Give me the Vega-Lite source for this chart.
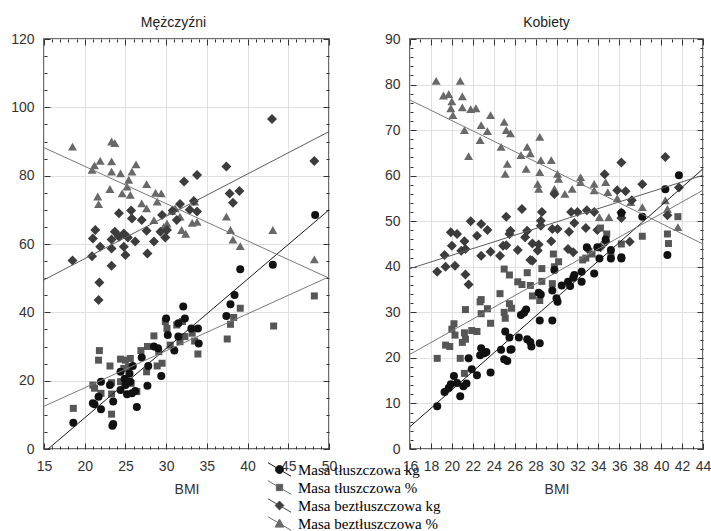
{
  "$schema": "https://vega.github.io/schema/vega-lite/v6.json",
  "background": "white",
  "padding": {"left": 9, "top": 15, "right": 5, "bottom": 5},
  "bounds": "flush",
  "spacing": 81,
  "config": {
    "view": {"stroke": "#3c3c3c", "strokeWidth": 1.5},
    "axis": {
      "labelFont": "Liberation Sans", "labelFontSize": 14, "labelColor": "#333",
      "titleFont": "Liberation Sans", "titleFontSize": 14, "titleFontWeight": "normal", "titleColor": "#333",
      "domain": false, "tickColor": "#333", "tickWidth": 1, "gridColor": "#e0e0e0",
      "labelOverlap": false, "labelFlush": false
    },
    "title": {"font": "Liberation Sans", "fontSize": 14, "fontWeight": "normal", "color": "#222", "frame": "group", "anchor": "middle", "offset": 2}
  },
  "resolve": {"scale": {"x": "independent", "y": "independent", "color": "independent", "shape": "independent", "fill": "independent", "stroke": "independent"}},
  "datasets": {
    "punkty": [
      {"p":"M","s":"bp","x":18.5,"y":88.5},{"p":"M","s":"bp","x":23.3,"y":90.0},{"p":"M","s":"bp","x":23.7,"y":89.5},{"p":"M","s":"bp","x":20.9,"y":81.7},{"p":"M","s":"bp","x":21.2,"y":83.0},{"p":"M","s":"bp","x":21.9,"y":84.3},{"p":"M","s":"bp","x":23.3,"y":84.2},{"p":"M","s":"bp","x":23.3,"y":81.2},{"p":"M","s":"bp","x":24.4,"y":80.7},{"p":"M","s":"bp","x":26.3,"y":83.3},{"p":"M","s":"bp","x":25.8,"y":81.2},{"p":"M","s":"bp","x":25.4,"y":78.8},{"p":"M","s":"bp","x":25.2,"y":76.8},{"p":"M","s":"bp","x":24.6,"y":74.8},{"p":"M","s":"bp","x":25.6,"y":74.4},{"p":"M","s":"bp","x":23.1,"y":76.1},{"p":"M","s":"bp","x":21.6,"y":73.9},{"p":"M","s":"bp","x":21.7,"y":71.7},{"p":"M","s":"bp","x":27.6,"y":77.5},{"p":"M","s":"bp","x":28.7,"y":75.0},{"p":"M","s":"bp","x":29.4,"y":74.8},{"p":"M","s":"bp","x":28.9,"y":72.4},{"p":"M","s":"bp","x":27.0,"y":71.9},{"p":"M","s":"bp","x":27.6,"y":70.4},{"p":"M","s":"bp","x":28.5,"y":67.0},{"p":"M","s":"bp","x":29.7,"y":65.0},{"p":"M","s":"bp","x":31.1,"y":70.4},{"p":"M","s":"bp","x":31.7,"y":68.0},{"p":"M","s":"bp","x":31.9,"y":64.1},{"p":"M","s":"bp","x":33.2,"y":66.2},{"p":"M","s":"bp","x":33.8,"y":66.5},{"p":"M","s":"bp","x":33.5,"y":72.4},{"p":"M","s":"bp","x":37.4,"y":68.0},{"p":"M","s":"bp","x":37.9,"y":64.1},{"p":"M","s":"bp","x":38.2,"y":61.3},{"p":"M","s":"bp","x":39.1,"y":59.4},{"p":"M","s":"bp","x":43.1,"y":64.1},{"p":"M","s":"bp","x":48.2,"y":55.5},{"p":"M","s":"bp","x":30.7,"y":69.7},{"p":"M","s":"bp","x":32.4,"y":63.0},{"p":"M","s":"bp","x":30.1,"y":66.0},
      {"p":"M","s":"bkg","x":43.0,"y":96.6},{"p":"M","s":"bkg","x":48.2,"y":84.3},{"p":"M","s":"bkg","x":37.4,"y":82.7},{"p":"M","s":"bkg","x":33.8,"y":80.2},{"p":"M","s":"bkg","x":32.2,"y":78.3},{"p":"M","s":"bkg","x":37.8,"y":74.8},{"p":"M","s":"bkg","x":39.0,"y":75.5},{"p":"M","s":"bkg","x":38.2,"y":72.1},{"p":"M","s":"bkg","x":33.4,"y":72.6},{"p":"M","s":"bkg","x":31.7,"y":71.7},{"p":"M","s":"bkg","x":30.8,"y":69.8},{"p":"M","s":"bkg","x":32.9,"y":70.0},{"p":"M","s":"bkg","x":33.8,"y":69.5},{"p":"M","s":"bkg","x":29.5,"y":68.5},{"p":"M","s":"bkg","x":31.3,"y":67.0},{"p":"M","s":"bkg","x":30.1,"y":64.1},{"p":"M","s":"bkg","x":29.3,"y":63.6},{"p":"M","s":"bkg","x":29.9,"y":61.9},{"p":"M","s":"bkg","x":27.6,"y":63.9},{"p":"M","s":"bkg","x":28.5,"y":60.7},{"p":"M","s":"bkg","x":27.0,"y":67.0},{"p":"M","s":"bkg","x":25.7,"y":69.8},{"p":"M","s":"bkg","x":25.8,"y":67.5},{"p":"M","s":"bkg","x":24.2,"y":69.0},{"p":"M","s":"bkg","x":23.7,"y":63.6},{"p":"M","s":"bkg","x":24.8,"y":63.1},{"p":"M","s":"bkg","x":24.2,"y":62.1},{"p":"M","s":"bkg","x":25.3,"y":61.9},{"p":"M","s":"bkg","x":26.2,"y":60.7},{"p":"M","s":"bkg","x":23.3,"y":61.3},{"p":"M","s":"bkg","x":21.3,"y":64.1},{"p":"M","s":"bkg","x":21.0,"y":61.6},{"p":"M","s":"bkg","x":21.9,"y":59.2},{"p":"M","s":"bkg","x":23.3,"y":58.7},{"p":"M","s":"bkg","x":24.8,"y":59.2},{"p":"M","s":"bkg","x":25.0,"y":56.8},{"p":"M","s":"bkg","x":27.7,"y":57.2},{"p":"M","s":"bkg","x":18.5,"y":55.2},{"p":"M","s":"bkg","x":20.9,"y":56.4},{"p":"M","s":"bkg","x":23.3,"y":53.6},{"p":"M","s":"bkg","x":21.8,"y":48.7},{"p":"M","s":"bkg","x":21.7,"y":43.6},
      {"p":"M","s":"tp","x":48.2,"y":44.8},{"p":"M","s":"tp","x":43.2,"y":36.0},{"p":"M","s":"tp","x":39.1,"y":41.2},{"p":"M","s":"tp","x":38.3,"y":38.5},{"p":"M","s":"tp","x":37.9,"y":36.5},{"p":"M","s":"tp","x":37.5,"y":32.2},{"p":"M","s":"tp","x":33.9,"y":27.8},{"p":"M","s":"tp","x":33.5,"y":31.6},{"p":"M","s":"tp","x":33.2,"y":33.9},{"p":"M","s":"tp","x":32.3,"y":32.9},{"p":"M","s":"tp","x":31.7,"y":31.4},{"p":"M","s":"tp","x":32.0,"y":37.3},{"p":"M","s":"tp","x":31.3,"y":36.3},{"p":"M","s":"tp","x":30.5,"y":30.4},{"p":"M","s":"tp","x":29.9,"y":37.3},{"p":"M","s":"tp","x":30.1,"y":35.3},{"p":"M","s":"tp","x":28.5,"y":33.1},{"p":"M","s":"tp","x":29.1,"y":28.5},{"p":"M","s":"tp","x":28.9,"y":24.3},{"p":"M","s":"tp","x":29.5,"y":25.1},{"p":"M","s":"tp","x":27.7,"y":30.0},{"p":"M","s":"tp","x":27.6,"y":22.6},{"p":"M","s":"tp","x":26.9,"y":28.8},{"p":"M","s":"tp","x":26.4,"y":16.8},{"p":"M","s":"tp","x":25.6,"y":26.5},{"p":"M","s":"tp","x":25.4,"y":24.1},{"p":"M","s":"tp","x":25.0,"y":26.0},{"p":"M","s":"tp","x":24.4,"y":26.3},{"p":"M","s":"tp","x":24.8,"y":23.6},{"p":"M","s":"tp","x":25.1,"y":20.7},{"p":"M","s":"tp","x":24.4,"y":19.7},{"p":"M","s":"tp","x":23.3,"y":19.4},{"p":"M","s":"tp","x":23.3,"y":16.1},{"p":"M","s":"tp","x":23.3,"y":10.2},{"p":"M","s":"tp","x":23.1,"y":24.3},{"p":"M","s":"tp","x":21.8,"y":28.8},{"p":"M","s":"tp","x":21.7,"y":26.0},{"p":"M","s":"tp","x":21.0,"y":18.7},{"p":"M","s":"tp","x":21.2,"y":17.8},{"p":"M","s":"tp","x":22.0,"y":16.3},{"p":"M","s":"tp","x":18.6,"y":11.9},{"p":"M","s":"tp","x":25.7,"y":19.2},
      {"p":"M","s":"tkg","x":48.3,"y":68.5},{"p":"M","s":"tkg","x":43.1,"y":53.9},{"p":"M","s":"tkg","x":39.1,"y":52.6},{"p":"M","s":"tkg","x":38.4,"y":45.1},{"p":"M","s":"tkg","x":37.9,"y":42.4},{"p":"M","s":"tkg","x":37.4,"y":38.9},{"p":"M","s":"tkg","x":33.9,"y":35.3},{"p":"M","s":"tkg","x":33.1,"y":35.3},{"p":"M","s":"tkg","x":34.0,"y":30.9},{"p":"M","s":"tkg","x":32.1,"y":41.7},{"p":"M","s":"tkg","x":32.3,"y":38.2},{"p":"M","s":"tkg","x":31.5,"y":36.8},{"p":"M","s":"tkg","x":31.5,"y":32.9},{"p":"M","s":"tkg","x":31.0,"y":28.8},{"p":"M","s":"tkg","x":30.0,"y":38.2},{"p":"M","s":"tkg","x":30.2,"y":33.4},{"p":"M","s":"tkg","x":29.0,"y":29.5},{"p":"M","s":"tkg","x":28.5,"y":30.0},{"p":"M","s":"tkg","x":27.0,"y":26.8},{"p":"M","s":"tkg","x":27.8,"y":24.3},{"p":"M","s":"tkg","x":27.7,"y":18.5},{"p":"M","s":"tkg","x":29.4,"y":21.4},{"p":"M","s":"tkg","x":25.9,"y":24.3},{"p":"M","s":"tkg","x":25.5,"y":22.1},{"p":"M","s":"tkg","x":25.6,"y":19.7},{"p":"M","s":"tkg","x":25.0,"y":18.7},{"p":"M","s":"tkg","x":25.2,"y":16.0},{"p":"M","s":"tkg","x":25.8,"y":16.3},{"p":"M","s":"tkg","x":24.4,"y":22.6},{"p":"M","s":"tkg","x":24.4,"y":17.3},{"p":"M","s":"tkg","x":23.5,"y":13.9},{"p":"M","s":"tkg","x":23.5,"y":7.3},{"p":"M","s":"tkg","x":23.4,"y":6.8},{"p":"M","s":"tkg","x":22.0,"y":19.7},{"p":"M","s":"tkg","x":21.7,"y":15.3},{"p":"M","s":"tkg","x":22.0,"y":11.6},{"p":"M","s":"tkg","x":21.0,"y":13.4},{"p":"M","s":"tkg","x":21.2,"y":13.1},{"p":"M","s":"tkg","x":26.4,"y":12.3},{"p":"M","s":"tkg","x":18.6,"y":7.7},{"p":"M","s":"tkg","x":23.1,"y":18.7},{"p":"M","s":"tkg","x":24.9,"y":20.5},{"p":"M","s":"tkg","x":26.2,"y":17.0},
      {"p":"K","s":"bp","x":18.5,"y":80.8},{"p":"K","s":"bp","x":20.8,"y":80.8},{"p":"K","s":"bp","x":19.2,"y":77.6},{"p":"K","s":"bp","x":19.7,"y":77.9},{"p":"K","s":"bp","x":21.0,"y":77.4},{"p":"K","s":"bp","x":20.0,"y":76.3},{"p":"K","s":"bp","x":19.9,"y":74.8},{"p":"K","s":"bp","x":20.1,"y":73.3},{"p":"K","s":"bp","x":21.0,"y":75.0},{"p":"K","s":"bp","x":21.8,"y":74.6},{"p":"K","s":"bp","x":22.3,"y":74.8},{"p":"K","s":"bp","x":21.2,"y":70.0},{"p":"K","s":"bp","x":21.6,"y":64.3},{"p":"K","s":"bp","x":22.8,"y":71.1},{"p":"K","s":"bp","x":23.4,"y":69.8},{"p":"K","s":"bp","x":23.7,"y":73.3},{"p":"K","s":"bp","x":22.7,"y":67.8},{"p":"K","s":"bp","x":24.7,"y":66.3},{"p":"K","s":"bp","x":25.0,"y":71.8},{"p":"K","s":"bp","x":25.2,"y":70.0},{"p":"K","s":"bp","x":25.6,"y":69.3},{"p":"K","s":"bp","x":25.3,"y":62.6},{"p":"K","s":"bp","x":25.1,"y":60.4},{"p":"K","s":"bp","x":26.6,"y":64.5},{"p":"K","s":"bp","x":27.2,"y":66.3},{"p":"K","s":"bp","x":27.5,"y":64.9},{"p":"K","s":"bp","x":27.1,"y":61.5},{"p":"K","s":"bp","x":28.4,"y":68.5},{"p":"K","s":"bp","x":28.5,"y":63.4},{"p":"K","s":"bp","x":28.4,"y":60.8},{"p":"K","s":"bp","x":28.2,"y":58.2},{"p":"K","s":"bp","x":28.3,"y":57.1},{"p":"K","s":"bp","x":29.5,"y":63.4},{"p":"K","s":"bp","x":30.1,"y":60.4},{"p":"K","s":"bp","x":30.2,"y":59.3},{"p":"K","s":"bp","x":29.8,"y":57.1},{"p":"K","s":"bp","x":30.8,"y":56.0},{"p":"K","s":"bp","x":31.5,"y":57.1},{"p":"K","s":"bp","x":32.3,"y":59.7},{"p":"K","s":"bp","x":32.3,"y":58.6},{"p":"K","s":"bp","x":33.6,"y":58.2},{"p":"K","s":"bp","x":33.6,"y":56.8},{"p":"K","s":"bp","x":34.7,"y":58.6},{"p":"K","s":"bp","x":34.9,"y":56.4},{"p":"K","s":"bp","x":35.0,"y":50.9},{"p":"K","s":"bp","x":34.1,"y":50.9},{"p":"K","s":"bp","x":35.8,"y":55.0},{"p":"K","s":"bp","x":37.1,"y":54.2},{"p":"K","s":"bp","x":38.2,"y":53.1},{"p":"K","s":"bp","x":40.4,"y":54.6},{"p":"K","s":"bp","x":40.6,"y":52.7},{"p":"K","s":"bp","x":41.6,"y":48.7},
      {"p":"K","s":"bkg","x":40.4,"y":64.1},{"p":"K","s":"bkg","x":36.2,"y":62.9},{"p":"K","s":"bkg","x":34.6,"y":60.3},{"p":"K","s":"bkg","x":38.2,"y":58.1},{"p":"K","s":"bkg","x":35.8,"y":56.8},{"p":"K","s":"bkg","x":36.6,"y":56.6},{"p":"K","s":"bkg","x":37.2,"y":54.6},{"p":"K","s":"bkg","x":41.7,"y":57.4},{"p":"K","s":"bkg","x":40.6,"y":51.3},{"p":"K","s":"bkg","x":36.2,"y":50.7},{"p":"K","s":"bkg","x":36.2,"y":51.9},{"p":"K","s":"bkg","x":33.6,"y":52.0},{"p":"K","s":"bkg","x":32.9,"y":52.4},{"p":"K","s":"bkg","x":32.0,"y":52.0},{"p":"K","s":"bkg","x":31.7,"y":49.6},{"p":"K","s":"bkg","x":29.8,"y":56.0},{"p":"K","s":"bkg","x":31.4,"y":52.0},{"p":"K","s":"bkg","x":28.6,"y":52.0},{"p":"K","s":"bkg","x":26.7,"y":52.7},{"p":"K","s":"bkg","x":28.5,"y":50.1},{"p":"K","s":"bkg","x":28.5,"y":49.0},{"p":"K","s":"bkg","x":29.6,"y":48.3},{"p":"K","s":"bkg","x":30.1,"y":48.3},{"p":"K","s":"bkg","x":31.2,"y":47.7},{"p":"K","s":"bkg","x":32.8,"y":48.5},{"p":"K","s":"bkg","x":33.9,"y":48.1},{"p":"K","s":"bkg","x":34.7,"y":45.5},{"p":"K","s":"bkg","x":37.0,"y":45.5},{"p":"K","s":"bkg","x":25.2,"y":51.0},{"p":"K","s":"bkg","x":25.6,"y":47.9},{"p":"K","s":"bkg","x":25.5,"y":47.2},{"p":"K","s":"bkg","x":27.2,"y":47.9},{"p":"K","s":"bkg","x":27.0,"y":46.5},{"p":"K","s":"bkg","x":21.8,"y":50.0},{"p":"K","s":"bkg","x":22.8,"y":49.4},{"p":"K","s":"bkg","x":23.4,"y":48.1},{"p":"K","s":"bkg","x":22.4,"y":46.8},{"p":"K","s":"bkg","x":20.5,"y":47.2},{"p":"K","s":"bkg","x":21.2,"y":45.6},{"p":"K","s":"bkg","x":19.9,"y":47.6},{"p":"K","s":"bkg","x":20.0,"y":44.6},{"p":"K","s":"bkg","x":20.9,"y":43.5},{"p":"K","s":"bkg","x":21.3,"y":43.9},{"p":"K","s":"bkg","x":23.7,"y":43.3},{"p":"K","s":"bkg","x":24.9,"y":44.6},{"p":"K","s":"bkg","x":25.2,"y":44.7},{"p":"K","s":"bkg","x":24.6,"y":42.4},{"p":"K","s":"bkg","x":22.8,"y":42.4},{"p":"K","s":"bkg","x":26.3,"y":43.7},{"p":"K","s":"bkg","x":27.7,"y":45.1},{"p":"K","s":"bkg","x":28.3,"y":44.9},{"p":"K","s":"bkg","x":28.2,"y":43.6},{"p":"K","s":"bkg","x":29.5,"y":45.6},{"p":"K","s":"bkg","x":31.1,"y":43.9},{"p":"K","s":"bkg","x":31.6,"y":43.2},{"p":"K","s":"bkg","x":33.0,"y":43.9},{"p":"K","s":"bkg","x":34.2,"y":44.3},{"p":"K","s":"bkg","x":19.3,"y":42.6},{"p":"K","s":"bkg","x":27.7,"y":41.3},{"p":"K","s":"bkg","x":18.6,"y":38.9},{"p":"K","s":"bkg","x":19.4,"y":40.0},{"p":"K","s":"bkg","x":20.3,"y":40.2},{"p":"K","s":"bkg","x":21.3,"y":38.3},{"p":"K","s":"bkg","x":21.6,"y":36.1},{"p":"K","s":"bkg","x":27.5,"y":41.5},
      {"p":"K","s":"tp","x":18.6,"y":19.9},{"p":"K","s":"tp","x":19.4,"y":22.8},{"p":"K","s":"tp","x":19.8,"y":22.5},{"p":"K","s":"tp","x":20.0,"y":26.3},{"p":"K","s":"tp","x":20.2,"y":27.5},{"p":"K","s":"tp","x":20.3,"y":25.0},{"p":"K","s":"tp","x":21.2,"y":25.5},{"p":"K","s":"tp","x":21.0,"y":23.4},{"p":"K","s":"tp","x":21.3,"y":24.1},{"p":"K","s":"tp","x":20.8,"y":19.9},{"p":"K","s":"tp","x":21.3,"y":30.6},{"p":"K","s":"tp","x":21.9,"y":26.0},{"p":"K","s":"tp","x":22.4,"y":25.8},{"p":"K","s":"tp","x":22.8,"y":29.7},{"p":"K","s":"tp","x":22.8,"y":32.8},{"p":"K","s":"tp","x":22.7,"y":32.3},{"p":"K","s":"tp","x":23.4,"y":30.8},{"p":"K","s":"tp","x":23.7,"y":27.6},{"p":"K","s":"tp","x":24.6,"y":34.1},{"p":"K","s":"tp","x":25.0,"y":30.0},{"p":"K","s":"tp","x":25.1,"y":28.7},{"p":"K","s":"tp","x":25.5,"y":31.9},{"p":"K","s":"tp","x":25.7,"y":30.9},{"p":"K","s":"tp","x":25.0,"y":39.5},{"p":"K","s":"tp","x":25.5,"y":38.2},{"p":"K","s":"tp","x":26.3,"y":36.7},{"p":"K","s":"tp","x":26.7,"y":36.1},{"p":"K","s":"tp","x":27.2,"y":38.7},{"p":"K","s":"tp","x":27.5,"y":35.9},{"p":"K","s":"tp","x":27.7,"y":33.6},{"p":"K","s":"tp","x":28.4,"y":32.6},{"p":"K","s":"tp","x":28.6,"y":39.6},{"p":"K","s":"tp","x":28.6,"y":36.8},{"p":"K","s":"tp","x":29.6,"y":36.3},{"p":"K","s":"tp","x":29.8,"y":40.0},{"p":"K","s":"tp","x":30.2,"y":41.1},{"p":"K","s":"tp","x":32.5,"y":41.5},{"p":"K","s":"tp","x":21.2,"y":16.6},{"p":"K","s":"tp","x":41.6,"y":51.0},{"p":"K","s":"tp","x":40.6,"y":47.2},{"p":"K","s":"tp","x":40.7,"y":45.1},{"p":"K","s":"tp","x":38.2,"y":46.7},{"p":"K","s":"tp","x":36.2,"y":45.0},{"p":"K","s":"tp","x":34.2,"y":48.5},{"p":"K","s":"tp","x":34.8,"y":47.2},{"p":"K","s":"tp","x":35.2,"y":42.4},{"p":"K","s":"tp","x":33.4,"y":42.8},{"p":"K","s":"tp","x":32.8,"y":41.9},{"p":"K","s":"tp","x":29.7,"y":42.8},
      {"p":"K","s":"tkg","x":18.6,"y":9.4},{"p":"K","s":"tkg","x":19.3,"y":12.5},{"p":"K","s":"tkg","x":19.7,"y":13.4},{"p":"K","s":"tkg","x":20.2,"y":16.0},{"p":"K","s":"tkg","x":19.9,"y":14.2},{"p":"K","s":"tkg","x":20.5,"y":14.5},{"p":"K","s":"tkg","x":20.8,"y":11.6},{"p":"K","s":"tkg","x":21.1,"y":13.8},{"p":"K","s":"tkg","x":21.4,"y":14.4},{"p":"K","s":"tkg","x":21.6,"y":19.9},{"p":"K","s":"tkg","x":21.9,"y":17.5},{"p":"K","s":"tkg","x":22.4,"y":16.2},{"p":"K","s":"tkg","x":22.8,"y":22.1},{"p":"K","s":"tkg","x":22.7,"y":20.6},{"p":"K","s":"tkg","x":23.1,"y":21.0},{"p":"K","s":"tkg","x":23.3,"y":21.3},{"p":"K","s":"tkg","x":23.7,"y":16.8},{"p":"K","s":"tkg","x":24.7,"y":21.8},{"p":"K","s":"tkg","x":25.1,"y":25.8},{"p":"K","s":"tkg","x":25.0,"y":19.7},{"p":"K","s":"tkg","x":25.3,"y":19.3},{"p":"K","s":"tkg","x":25.6,"y":21.8},{"p":"K","s":"tkg","x":25.7,"y":21.9},{"p":"K","s":"tkg","x":25.5,"y":24.5},{"p":"K","s":"tkg","x":26.4,"y":24.5},{"p":"K","s":"tkg","x":26.6,"y":29.4},{"p":"K","s":"tkg","x":26.9,"y":29.9},{"p":"K","s":"tkg","x":27.1,"y":30.6},{"p":"K","s":"tkg","x":27.2,"y":24.1},{"p":"K","s":"tkg","x":27.5,"y":23.5},{"p":"K","s":"tkg","x":27.6,"y":22.5},{"p":"K","s":"tkg","x":28.4,"y":23.2},{"p":"K","s":"tkg","x":28.4,"y":28.2},{"p":"K","s":"tkg","x":28.3,"y":34.3},{"p":"K","s":"tkg","x":28.5,"y":33.9},{"p":"K","s":"tkg","x":29.6,"y":28.2},{"p":"K","s":"tkg","x":29.6,"y":34.8},{"p":"K","s":"tkg","x":30.0,"y":33.1},{"p":"K","s":"tkg","x":30.1,"y":32.3},{"p":"K","s":"tkg","x":29.8,"y":39.3},{"p":"K","s":"tkg","x":30.5,"y":35.9},{"p":"K","s":"tkg","x":31.1,"y":36.7},{"p":"K","s":"tkg","x":31.3,"y":35.8},{"p":"K","s":"tkg","x":31.6,"y":37.6},{"p":"K","s":"tkg","x":31.7,"y":38.2},{"p":"K","s":"tkg","x":32.4,"y":38.9},{"p":"K","s":"tkg","x":32.4,"y":36.7},{"p":"K","s":"tkg","x":33.6,"y":38.5},{"p":"K","s":"tkg","x":34.1,"y":41.8},{"p":"K","s":"tkg","x":35.2,"y":41.8},{"p":"K","s":"tkg","x":36.2,"y":41.8},{"p":"K","s":"tkg","x":41.7,"y":60.1},{"p":"K","s":"tkg","x":40.4,"y":57.0},{"p":"K","s":"tkg","x":38.2,"y":51.0},{"p":"K","s":"tkg","x":36.2,"y":51.8},{"p":"K","s":"tkg","x":34.7,"y":46.0},{"p":"K","s":"tkg","x":35.2,"y":43.7},{"p":"K","s":"tkg","x":33.9,"y":44.3},{"p":"K","s":"tkg","x":32.9,"y":44.3},{"p":"K","s":"tkg","x":36.2,"y":42.1},{"p":"K","s":"tkg","x":40.6,"y":42.6}
    ],
    "linie": [
      {"p":"M","s":"tkg","x":15.5,"y":0},{"p":"M","s":"tkg","x":50,"y":70},
      {"p":"M","s":"tp","x":15,"y":12.5},{"p":"M","s":"tp","x":50,"y":50.4},
      {"p":"M","s":"bkg","x":15,"y":49.5},{"p":"M","s":"bkg","x":50,"y":92.9},
      {"p":"M","s":"bp","x":15,"y":88.2},{"p":"M","s":"bp","x":50,"y":50.0},
      {"p":"K","s":"tkg","x":16,"y":4.9},{"p":"K","s":"tkg","x":44,"y":61.5},
      {"p":"K","s":"tp","x":16,"y":20.8},{"p":"K","s":"tp","x":44,"y":56.8},
      {"p":"K","s":"bkg","x":16,"y":39.6},{"p":"K","s":"bkg","x":44,"y":60.1},
      {"p":"K","s":"bp","x":16,"y":76.6},{"p":"K","s":"bp","x":44,"y":45.0}
    ]
  },
  "hconcat": [
    {
      "title": {"text": "Mężczyźni", "dx": -13},
      "width": 285,
      "height": 410,
      "resolve": {"axis": {"x": "independent", "y": "independent"}},
      "layer": [
        {
          "data": {"name": "punkty"},
          "transform": [{"filter": "datum.p === 'M'"}],
          "mark": {"type": "point", "filled": true, "opacity": 1},
          "encoding": {
            "x": {"field": "x", "type": "quantitative", "scale": {"domain": [15, 50], "nice": false, "zero": false},
              "axis": {"orient": "bottom", "title": "BMI", "titlePadding": 6,
                "values": [15,16,17,18,19,20,21,22,23,24,25,26,27,28,29,30,31,32,33,34,35,36,37,38,39,40,41,42,43,44,45,46,47,48,49,50],
                "labelExpr": "datum.value % 5 === 0 ? datum.label : ''", "labelPadding": 16,
                "grid": true, "gridOpacity": {"condition": {"test": "datum.value % 5 === 0", "value": 1}, "value": 0},
                "tickSize": {"condition": {"test": "datum.value % 5 === 0", "value": -6}, "value": -3}}},
            "y": {"field": "y", "type": "quantitative", "scale": {"domain": [0, 120], "nice": false, "zero": false},
              "axis": {"orient": "left", "title": null,
                "values": [0,5,10,15,20,25,30,35,40,45,50,55,60,65,70,75,80,85,90,95,100,105,110,115,120],
                "labelExpr": "datum.value % 20 === 0 ? datum.label : ''", "labelPadding": 16,
                "grid": true, "gridOpacity": {"condition": {"test": "datum.value % 20 === 0", "value": 1}, "value": 0},
                "tickSize": {"condition": {"test": "datum.value % 20 === 0", "value": -6}, "value": -3}}},
            "shape": {"condition": [{"test": "datum.s === 'tp'", "value": "square"}, {"test": "datum.s === 'bkg'", "value": "diamond"}, {"test": "datum.s === 'bp'", "value": "triangle-up"}], "value": "circle"},
            "color": {"condition": [{"test": "datum.s === 'tp'", "value": "#565656"}, {"test": "datum.s === 'bkg'", "value": "#3c3c3c"}, {"test": "datum.s === 'bp'", "value": "#686868"}], "value": "#111111"},
            "size": {"condition": [{"test": "datum.s === 'tp'", "value": 49}, {"test": "datum.s === 'bkg'", "value": 100}, {"test": "datum.s === 'bp'", "value": 81}], "value": 64}
          }
        },
        {
          "data": {"name": "linie"},
          "transform": [{"filter": "datum.p === 'M'"}],
          "mark": {"type": "line", "strokeWidth": 1},
          "encoding": {
            "x": {"field": "x", "type": "quantitative",
              "axis": {"orient": "top", "title": null, "labels": false, "grid": false,
                "values": [15,16,17,18,19,20,21,22,23,24,25,26,27,28,29,30,31,32,33,34,35,36,37,38,39,40,41,42,43,44,45,46,47,48,49,50],
                "tickSize": {"condition": {"test": "datum.value % 5 === 0", "value": -6}, "value": -3}}},
            "y": {"field": "y", "type": "quantitative",
              "axis": {"orient": "right", "title": null, "labels": false, "grid": false,
                "values": [0,5,10,15,20,25,30,35,40,45,50,55,60,65,70,75,80,85,90,95,100,105,110,115,120],
                "tickSize": {"condition": {"test": "datum.value % 20 === 0", "value": -6}, "value": -3}}},
            "detail": {"field": "s"},
            "color": {"condition": [{"test": "datum.s === 'tp'", "value": "#7a7a7a"}, {"test": "datum.s === 'bkg'", "value": "#5c5c5c"}, {"test": "datum.s === 'bp'", "value": "#7a7a7a"}], "value": "#1a1a1a"}
          }
        },
        {
          "data": {"name": "linie"},
          "transform": [{"filter": "datum.p === 'nikt'"}],
          "mark": {"type": "point", "filled": true, "opacity": 1},
          "encoding": {
            "x": {"field": "x", "type": "quantitative", "axis": null},
            "y": {"field": "y", "type": "quantitative", "axis": null},
            "shape": {"field": "s", "type": "nominal",
              "scale": {"domain": ["tkg", "tp", "bkg", "bp"],
                "range": [
                  "M-1.45,-0.85L1.45,0.85M0.5,0A0.5,0.5 0 1,1 -0.5,0A0.5,0.5 0 1,1 0.5,0Z",
                  "M-1.45,-0.85L1.45,0.85M-0.4,-0.4H0.4V0.4H-0.4Z",
                  "M-1.45,-0.85L1.45,0.85M0,-0.55L0.55,0L0,0.55L-0.55,0Z",
                  "M-1.45,-0.85L1.45,0.85M0,-0.55L0.55,0.45L-0.55,0.45Z"
                ]},
              "legend": {"orient": "none", "direction": "vertical", "legendX": 227, "legendY": 422, "title": null, "padding": 0,
                "symbolSize": 256, "symbolStrokeWidth": 1, "labelOffset": 10, "rowPadding": -1,
                "labelFont": "Liberation Serif", "labelFontSize": 15, "labelColor": "#000",
                "labelExpr": "{'tkg': 'Masa tłuszczowa kg', 'tp': 'Masa tłuszczowa %', 'bkg': 'Masa beztłuszczowa kg', 'bp': 'Masa beztłuszczowa %'}[datum.value]"}},
            "fill": {"field": "s", "type": "nominal", "scale": {"domain": ["tkg", "tp", "bkg", "bp"], "range": ["#111111", "#565656", "#3c3c3c", "#686868"]}},
            "stroke": {"field": "s", "type": "nominal", "scale": {"domain": ["tkg", "tp", "bkg", "bp"], "range": ["#1a1a1a", "#6a6a6a", "#4a4a4a", "#6a6a6a"]}}
          }
        }
      ]
    },
    {
      "title": {"text": "Kobiety", "dx": -10},
      "width": 293,
      "height": 410,
      "resolve": {"axis": {"x": "independent", "y": "independent"}},
      "layer": [
        {
          "data": {"name": "punkty"},
          "transform": [{"filter": "datum.p === 'K'"}],
          "mark": {"type": "point", "filled": true, "opacity": 1},
          "encoding": {
            "x": {"field": "x", "type": "quantitative", "scale": {"domain": [16, 44], "nice": false, "zero": false},
              "axis": {"orient": "bottom", "title": "BMI", "titlePadding": 6,
                "values": [16,17,18,19,20,21,22,23,24,25,26,27,28,29,30,31,32,33,34,35,36,37,38,39,40,41,42,43,44],
                "labelExpr": "datum.value % 2 === 0 ? datum.label : ''", "labelPadding": 16,
                "grid": true, "gridOpacity": {"condition": {"test": "datum.value % 2 === 0", "value": 1}, "value": 0},
                "tickSize": {"condition": {"test": "datum.value % 2 === 0", "value": -6}, "value": -3}}},
            "y": {"field": "y", "type": "quantitative", "scale": {"domain": [0, 90], "nice": false, "zero": false},
              "axis": {"orient": "left", "title": null,
                "values": [0,2,4,6,8,10,12,14,16,18,20,22,24,26,28,30,32,34,36,38,40,42,44,46,48,50,52,54,56,58,60,62,64,66,68,70,72,74,76,78,80,82,84,86,88,90],
                "labelExpr": "datum.value % 10 === 0 ? datum.label : ''", "labelPadding": 16,
                "grid": true, "gridOpacity": {"condition": {"test": "datum.value % 10 === 0", "value": 1}, "value": 0},
                "tickSize": {"condition": {"test": "datum.value % 10 === 0", "value": -6}, "value": -3}}},
            "shape": {"condition": [{"test": "datum.s === 'tp'", "value": "square"}, {"test": "datum.s === 'bkg'", "value": "diamond"}, {"test": "datum.s === 'bp'", "value": "triangle-up"}], "value": "circle"},
            "color": {"condition": [{"test": "datum.s === 'tp'", "value": "#565656"}, {"test": "datum.s === 'bkg'", "value": "#3c3c3c"}, {"test": "datum.s === 'bp'", "value": "#686868"}], "value": "#111111"},
            "size": {"condition": [{"test": "datum.s === 'tp'", "value": 49}, {"test": "datum.s === 'bkg'", "value": 100}, {"test": "datum.s === 'bp'", "value": 81}], "value": 64}
          }
        },
        {
          "data": {"name": "linie"},
          "transform": [{"filter": "datum.p === 'K'"}],
          "mark": {"type": "line", "strokeWidth": 1},
          "encoding": {
            "x": {"field": "x", "type": "quantitative",
              "axis": {"orient": "top", "title": null, "labels": false, "grid": false,
                "values": [16,17,18,19,20,21,22,23,24,25,26,27,28,29,30,31,32,33,34,35,36,37,38,39,40,41,42,43,44],
                "tickSize": {"condition": {"test": "datum.value % 2 === 0", "value": -6}, "value": -3}}},
            "y": {"field": "y", "type": "quantitative",
              "axis": {"orient": "right", "title": null, "labels": false, "grid": false,
                "values": [0,2,4,6,8,10,12,14,16,18,20,22,24,26,28,30,32,34,36,38,40,42,44,46,48,50,52,54,56,58,60,62,64,66,68,70,72,74,76,78,80,82,84,86,88,90],
                "tickSize": {"condition": {"test": "datum.value % 10 === 0", "value": -6}, "value": -3}}},
            "detail": {"field": "s"},
            "color": {"condition": [{"test": "datum.s === 'tp'", "value": "#7a7a7a"}, {"test": "datum.s === 'bkg'", "value": "#5c5c5c"}, {"test": "datum.s === 'bp'", "value": "#7a7a7a"}], "value": "#1a1a1a"}
          }
        }
      ]
    }
  ]
}
